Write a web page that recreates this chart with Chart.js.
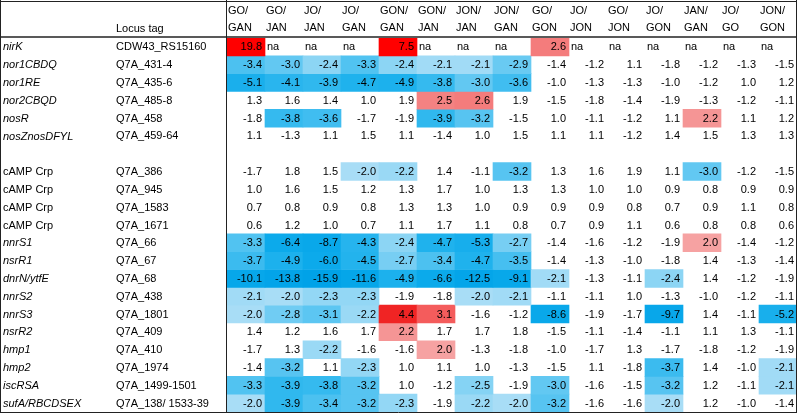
<!DOCTYPE html>
<html>
<head>
<meta charset="utf-8">
<script src="https://cdn.jsdelivr.net/npm/chart.js@4.4.1/dist/chart.umd.min.js"></script>
<style>
  html, body { margin: 0; padding: 0; background: #fff; }
  #wrap { width: 797px; height: 415px; }
</style>
</head>
<body>
<div id="wrap"><canvas id="heatmap"></canvas></div>
<script>
const columns = ['GO/GAN', 'GO/JAN', 'JO/JAN', 'JO/GAN', 'GON/GAN', 'GON/JAN', 'JON/JAN', 'JON/GAN',
  'GO/GON', 'JO/JON', 'GO/JON', 'JO/GON', 'JAN/GAN', 'JO/GO', 'JON/GON'];

const genes = ['nirK', 'nor1CBDQ', 'nor1RE', 'nor2CBQD', 'nosR', 'nosZnosDFYL', '',
  'cAMP Crp', 'cAMP Crp', 'cAMP Crp', 'cAMP Crp', 'nnrS1', 'nsrR1', 'dnrN/ytfE', 'nnrS2',
  'nnrS3', 'nsrR2', 'hmp1', 'hmp2', 'iscRSA', 'sufA/RBCDSEX'];

const locusTags = ['CDW43_RS15160', 'Q7A_431-4', 'Q7A_435-6', 'Q7A_485-8', 'Q7A_458', 'Q7A_459-64', '',
  'Q7A_386', 'Q7A_945', 'Q7A_1583', 'Q7A_1671', 'Q7A_66', 'Q7A_67', 'Q7A_68', 'Q7A_438',
  'Q7A_1801', 'Q7A_409', 'Q7A_410', 'Q7A_1974', 'Q7A_1499-1501', 'Q7A_138/ 1533-39'];

// fold changes, null = na
const foldChanges = [
  [19.8, null, null, null, 7.5, null, null, null, 2.6, null, null, null, null, null, null],
  [-3.4, -3.0, -2.4, -3.3, -2.4, -2.1, -2.1, -2.9, -1.4, -1.2, 1.1, -1.8, -1.2, -1.3, -1.5],
  [-5.1, -4.1, -3.9, -4.7, -4.9, -3.8, -3.0, -3.6, -1.0, -1.3, -1.3, -1.0, -1.2, 1.0, 1.2],
  [1.3, 1.6, 1.4, 1.0, 1.9, 2.5, 2.6, 1.9, -1.5, -1.8, -1.4, -1.9, -1.3, -1.2, -1.1],
  [-1.8, -3.8, -3.6, -1.7, -1.9, -3.9, -3.2, -1.5, 1.0, -1.1, -1.2, 1.1, 2.2, 1.1, 1.2],
  [1.1, -1.3, 1.1, 1.5, 1.1, -1.4, 1.0, 1.5, 1.1, 1.1, -1.2, 1.4, 1.5, 1.3, 1.3],
  [],
  [-1.7, 1.8, 1.5, -2.0, -2.2, 1.4, -1.1, -3.2, 1.3, 1.6, 1.9, 1.1, -3.0, -1.2, -1.5],
  [1.0, 1.6, 1.5, 1.2, 1.3, 1.7, 1.0, 1.3, 1.3, 1.0, 1.0, 0.9, 0.8, 0.9, 0.9],
  [0.7, 0.8, 0.9, 0.8, 1.3, 1.3, 1.0, 0.9, 0.9, 0.9, 0.8, 0.7, 0.9, 1.1, 0.8],
  [0.6, 1.2, 1.0, 0.7, 1.1, 1.7, 1.1, 0.8, 0.7, 0.9, 1.1, 0.6, 0.8, 0.8, 0.6],
  [-3.3, -6.4, -8.7, -4.3, -2.4, -4.7, -5.3, -2.7, -1.4, -1.6, -1.2, -1.9, 2.0, -1.4, -1.2],
  [-3.7, -4.9, -6.0, -4.5, -2.7, -3.4, -4.7, -3.5, -1.4, -1.3, -1.0, -1.8, 1.4, -1.3, -1.4],
  [-10.1, -13.8, -15.9, -11.6, -4.9, -6.6, -12.5, -9.1, -2.1, -1.3, -1.1, -2.4, 1.4, -1.2, -1.9],
  [-2.1, -2.0, -2.3, -2.3, -1.9, -1.8, -2.0, -2.1, -1.1, -1.1, 1.0, -1.3, -1.0, -1.2, -1.1],
  [-2.0, -2.8, -3.1, -2.2, 4.4, 3.1, -1.6, -1.2, -8.6, -1.9, -1.7, -9.7, 1.4, -1.1, -5.2],
  [1.4, 1.2, 1.6, 1.7, 2.2, 1.7, 1.7, 1.8, -1.5, -1.1, -1.4, -1.1, 1.1, 1.3, -1.1],
  [-1.7, 1.3, -2.2, -1.6, -1.6, 2.0, -1.3, -1.8, -1.0, -1.7, 1.3, -1.7, -1.8, -1.2, -1.9],
  [-1.4, -3.2, 1.1, -2.3, 1.0, 1.1, 1.0, -1.3, -1.5, 1.1, -1.8, -3.7, 1.4, -1.0, -2.1],
  [-3.3, -3.9, -3.8, -3.2, 1.0, -1.2, -2.5, -1.9, -3.0, -1.6, -1.5, -3.2, 1.2, -1.1, -2.1],
  [-2.0, -3.9, -3.4, -3.2, -2.3, -1.9, -2.2, -2.0, -3.2, -1.6, -1.6, -2.0, 1.2, -1.0, -1.4],
];

const FONT = '11px "Liberation Sans", Arial, sans-serif';

// colour stops for the conditional formatting
const blueStops = [[2, [168, 221, 246]], [3, [98, 200, 242]], [4, [42, 182, 238]], [6, [12, 170, 235]], [16, [0, 162, 232]]];
const redStops = [[2, [246, 162, 162]], [2.6, [244, 124, 124]], [3.1, [244, 92, 92]], [4.4, [240, 36, 36]], [7.5, [255, 0, 0]], [20, [255, 0, 0]]];

function lerpStops(stops, a) {
  if (a <= stops[0][0]) return stops[0][1];
  for (let i = 1; i < stops.length; i++) {
    const [a1, c1] = stops[i];
    const [a0, c0] = stops[i - 1];
    if (a <= a1) {
      const t = (a - a0) / (a1 - a0);
      return c0.map((v, k) => Math.round(v + (c1[k] - v) * t));
    }
  }
  return stops[stops.length - 1][1];
}

function cellColor(v) {
  if (v === null || v === undefined || Math.abs(v) < 2) return 'rgba(0,0,0,0)';
  const c = v > 0 ? lerpStops(redStops, v) : lerpStops(blueStops, -v);
  return `rgb(${c[0]},${c[1]},${c[2]})`;
}

// every row is one stacked dataset of unit-high cells
const datasets = foldChanges.map((row, r) => ({
  label: genes[r] + ' ' + locusTags[r],
  data: columns.map(() => 1),
  backgroundColor: columns.map((_, c) => cellColor(row[c])),
  borderWidth: 0,
  barPercentage: 1,
  categoryPercentage: 1,
}));

const tableText = {
  id: 'tableText',
  afterDatasetsDraw(chart) {
    const { ctx, chartArea, scales: { x, y } } = chart;
    const colW = x.getPixelForValue(1) - x.getPixelForValue(0);
    ctx.save();
    ctx.font = FONT;
    ctx.fillStyle = '#000';
    ctx.textBaseline = 'middle';

    // values
    foldChanges.forEach((row, r) => {
      const meta = chart.getDatasetMeta(r);
      meta.data.forEach((bar, c) => {
        if (!row.length) return;
        const v = row[c];
        const cy = (bar.y + bar.base) / 2 + 0.5;
        if (v === null) {
          ctx.textAlign = 'left';
          ctx.fillText('na', bar.x - colW / 2 + 2, cy);
        } else {
          ctx.textAlign = 'right';
          ctx.fillText(v.toFixed(1), bar.x + colW / 2 - 3, cy);
        }
      });
    });

    // row labels
    genes.forEach((g, r) => {
      const cy = y.getPixelForValue(r + 0.5) + 0.5;
      ctx.textAlign = 'left';
      ctx.font = g.startsWith('cAMP') ? FONT : 'italic ' + FONT;
      ctx.fillText(g, 3, cy);
      ctx.font = FONT;
      ctx.fillText(locusTags[r], 116, cy);
    });

    // header
    ctx.textAlign = 'left';
    ctx.fillText('Locus tag', 116, 29);
    columns.forEach((col, c) => {
      const left = x.getPixelForValue(c) - colW / 2 + 1;
      const [a, b] = col.split('/');
      ctx.fillText(a + '/', left, 11);
      ctx.fillText(b, left, 28);
    });

    // table rules
    ctx.strokeStyle = '#222';
    ctx.lineWidth = 1;
    ctx.beginPath();
    ctx.moveTo(0, 1.5); ctx.lineTo(797, 1.5);
    ctx.moveTo(0.5, 0); ctx.lineTo(0.5, 413);
    ctx.moveTo(796.5, 0); ctx.lineTo(796.5, 413);
    ctx.moveTo(226.5, 0); ctx.lineTo(226.5, 413);
    ctx.moveTo(0, 412.5); ctx.lineTo(797, 412.5);
    ctx.stroke();
    ctx.lineWidth = 1.5;
    ctx.beginPath();
    ctx.moveTo(0, 37); ctx.lineTo(797, 37);
    ctx.stroke();
    ctx.restore();
  },
};

new Chart(document.getElementById('heatmap'), {
  type: 'bar',
  data: { labels: columns, datasets },
  options: {
    responsive: true,
    maintainAspectRatio: false,
    animation: false,
    layout: { padding: { left: 227, top: 38, right: 0, bottom: 3 } },
    scales: {
      x: { display: false, stacked: true },
      y: { display: false, stacked: true, min: 0, max: genes.length, reverse: true },
    },
    plugins: {
      legend: { display: false },
      tooltip: { enabled: false },
    },
  },
  plugins: [tableText],
});
</script>
</body>
</html>
